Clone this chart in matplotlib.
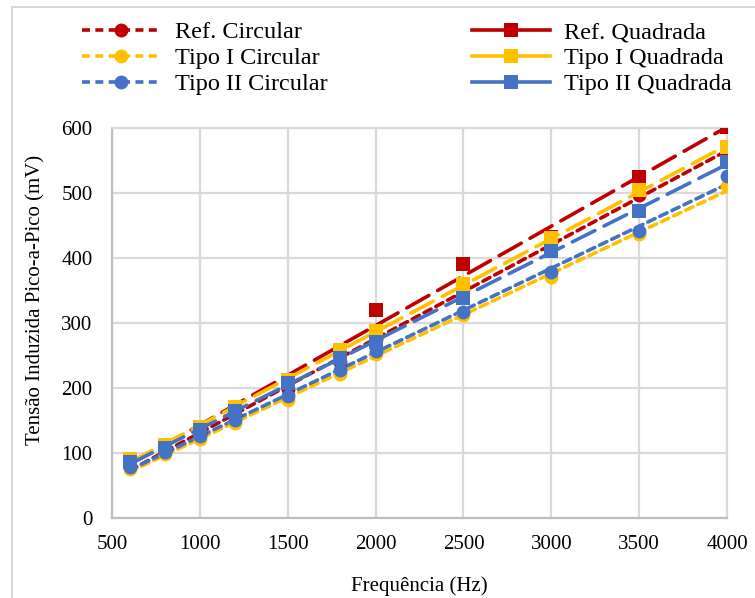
import numpy as np
import matplotlib
matplotlib.use('Agg')
import matplotlib.pyplot as plt
from matplotlib.lines import Line2D

plt.rcParams['font.family'] = ['Liberation Serif', 'DejaVu Serif']

#============================================================================#
# frequencias medidas (Hz) e tensoes pico-a-pico (mV)
freq = [600, 800, 1000, 1200, 1500, 1800, 2000, 2500, 3000, 3500, 4000]

ref_circ = [80, 103, 130, 158, 198, 240, 275, 352, 425, 497, 561]
ref_quad = [89, 110, 138, 168, 212, 255, 320, 391, 432, 525, 601]
t1_circ = [75, 98, 122, 146, 182, 222, 252, 312, 370, 437, 511]
t1_quad = [91, 112, 140, 170, 213, 258, 287, 360, 430, 504, 571]
t2_circ = [79, 101, 126, 150, 187, 228, 257, 317, 379, 441, 526]
t2_quad = [86, 108, 136, 165, 207, 246, 270, 338, 410, 473, 548]

labels = ['Ref. Circular', 'Ref. Quadrada',
          'Tipo I Circular', 'Tipo I Quadrada',
          'Tipo II Circular', 'Tipo II Quadrada']
#============================================================================#
RED = '#C00000'
GOLD = '#FFC000'
BLUE = '#4472C4'

SHORT = (0, (2.2, 1.5))
LONG = (0, (7, 2.8))

series = [
    (ref_circ, RED, 'o', SHORT),
    (ref_quad, RED, 's', LONG),
    (t1_circ, GOLD, 'o', SHORT),
    (t1_quad, GOLD, 's', LONG),
    (t2_circ, BLUE, 'o', SHORT),
    (t2_quad, BLUE, 's', LONG),
]

fig = plt.figure(figsize=(7.55, 5.98), dpi=100)
ax = fig.add_axes([0.1483, 0.1338, 0.8147, 0.6522])

x = np.array(freq, dtype=float)
xfit = np.array([x[0], x[-1]])

# linhas de tendencia lineares
for vals, col, mk, ls in series:
    a, b = np.polyfit(x, np.array(vals, dtype=float), 1)
    ax.plot(xfit, a * xfit + b, color=col, lw=2.6, linestyle=ls,
            dash_capstyle='round', zorder=2)

# pontos medidos
for vals, col, mk, ls in series:
    ax.plot(x, vals, linestyle='none', marker=mk, color=col,
            markersize=10, markeredgewidth=0, zorder=3)

ax.set_xlim(500, 4000)
ax.set_ylim(0, 600)
ax.set_xticks(range(500, 4001, 500))
ax.set_yticks(range(0, 601, 100))
ax.grid(True, color='#D9D9D9', lw=1.6, zorder=0)
ax.set_axisbelow(True)
ax.tick_params(length=0, labelsize=15)
ax.tick_params(axis='x', pad=12)
ax.tick_params(axis='y', pad=14)
for s in ax.spines.values():
    s.set_color('#D9D9D9')
    s.set_linewidth(1.6)
ax.spines['left'].set_color('#BFBFBF')
ax.spines['bottom'].set_color('#BFBFBF')

ax.set_xlabel('Frequência (Hz)', fontsize=15, labelpad=16)
ax.set_ylabel('Tensão Induzida Pico-a-Pico (mV)', fontsize=15)
ax.yaxis.set_label_coords(-0.108, 0.559)

# legenda em duas colunas acima do grafico (circulares | quadradas)
handles = []
for vals, col, mk, ls in series:
    handles.append(Line2D([0], [0], color=col, lw=2.6,
                          linestyle=SHORT if mk == 'o' else '-',
                          marker=mk, markersize=10, markeredgewidth=0))
order = [0, 2, 4, 1, 3, 5]
fig.legend([handles[i] for i in order], [labels[i] for i in order],
           loc='upper left', ncol=2, frameon=False, borderpad=0,
           bbox_to_anchor=(70 / 755, 1 - 9 / 598), fontsize=17.5,
           handlelength=3.2, handletextpad=0.6, columnspacing=5.95,
           labelspacing=0.17)

# moldura da area do grafico
fig.add_artist(Line2D([12 / 755, 12 / 755], [0, 1 - 7 / 598],
                      color='#D9D9D9', lw=1.5, transform=fig.transFigure))
fig.add_artist(Line2D([12 / 755, 1], [1 - 7 / 598, 1 - 7 / 598],
                      color='#D9D9D9', lw=1.5, transform=fig.transFigure))

fig.savefig('out.png', dpi=100)
